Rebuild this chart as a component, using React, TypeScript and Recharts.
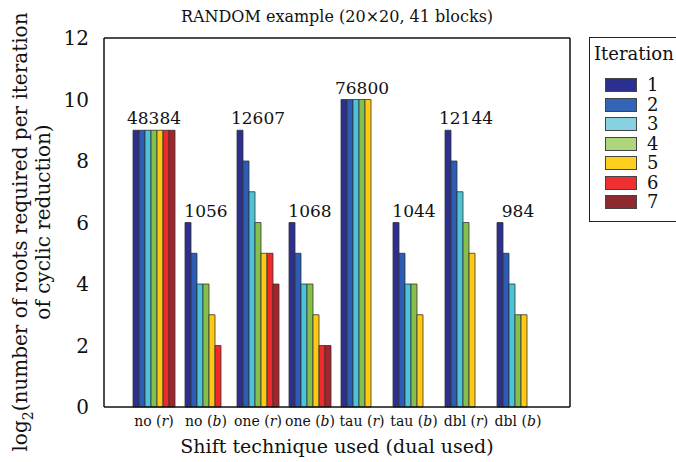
import { BarChart, Bar, XAxis, YAxis, Legend, LabelList } from 'recharts';

const categories = ['no', 'no', 'one', 'one', 'tau', 'tau', 'dbl', 'dbl'];
const duals = ['r', 'b', 'r', 'b', 'r', 'b', 'r', 'b'];
const rootCounts = ['48384', '1056', '12607', '1068', '76800', '1044', '12144', '984'];

// log2 of roots per iteration, one array per iteration (null = no such iteration)
const iter1 = [9, 6, 9, 6, 10, 6, 9, 6];
const iter2 = [9, 5, 8, 5, 10, 5, 8, 5];
const iter3 = [9, 4, 7, 4, 10, 4, 7, 4];
const iter4 = [9, 4, 6, 4, 10, 4, 6, 3];
const iter5 = [9, 3, 5, 3, 10, 3, 5, 3];
const iter6 = [9, 2, 5, 2, null, null, null, null];
const iter7 = [9, null, 4, 2, null, null, null, null];

const yTicks = [0, 2, 4, 6, 8, 10, 12];

const series = [
  { key: 'i1', name: '1', values: iter1, color: '#2b2f8f', swatch: '#2b2f8f' },
  { key: 'i2', name: '2', values: iter2, color: '#2c5cb4', swatch: '#3264b8' },
  { key: 'i3', name: '3', values: iter3, color: '#4cc3d8', swatch: '#86d2e0' },
  { key: 'i4', name: '4', values: iter4, color: '#86c04c', swatch: '#aed67c' },
  { key: 'i5', name: '5', values: iter5, color: '#ffc812', swatch: '#fdcf1c' },
  { key: 'i6', name: '6', values: iter6, color: '#ee2a2a', swatch: '#ee3030' },
  { key: 'i7', name: '7', values: iter7, color: '#a3262c', swatch: '#8e2a2e' },
];

const data = categories.map((c, i) => {
  const row: Record<string, any> = { cat: `${c}|${duals[i]}`, count: rootCounts[i] };
  series.forEach((s) => {
    row[s.key] = s.values[i];
  });
  return row;
});

const FONT = "'DejaVu Serif', 'Liberation Serif', serif";

function CategoryTick({ x, y, payload }: any) {
  const [word, dual] = String(payload.value).split('|');
  return (
    <text x={x} y={y + 11} textAnchor="middle" style={{ fontFamily: FONT }} fontSize={14} fill="#111">
      {word} (<tspan fontStyle="italic">{dual}</tspan>)
    </text>
  );
}

function CountLabel({ x, y, width, index }: any) {
  return (
    <text
      x={x + width * 3.5}
      y={y - 6}
      textAnchor="middle"
      style={{ fontFamily: FONT }}
      fontSize={17}
      fill="#111"
    >
      {rootCounts[index]}
    </text>
  );
}

function IterationLegend() {
  return (
    <div
      style={{
        position: 'absolute',
        left: 589,
        top: 37,
        width: 100,
        height: 185,
        border: '1px solid #222',
        background: '#fff',
        fontFamily: FONT,
        boxSizing: 'border-box',
      }}
    >
      <div style={{ position: 'absolute', left: 4, top: 5, fontSize: 18, color: '#111' }}>Iteration</div>
      {series.map((s, i) => (
        <div key={s.key}>
          <div
            style={{
              position: 'absolute',
              left: 15,
              top: 40 + i * 19.5,
              width: 32,
              height: 14,
              background: s.swatch,
              border: '1px solid #444',
              boxSizing: 'border-box',
            }}
          />
          <div
            style={{
              position: 'absolute',
              left: 57,
              top: 37 + i * 19.5,
              fontSize: 18,
              lineHeight: '19px',
              color: '#111',
            }}
          >
            {s.name}
          </div>
        </div>
      ))}
    </div>
  );
}

export default function App() {
  return (
    <div style={{ position: 'absolute', left: 0, top: 0, width: 676, height: 462, background: '#fff', fontFamily: FONT }}>
      <BarChart
        width={676}
        height={462}
        data={data}
        margin={{ top: 37, right: 105, bottom: 54, left: 103 }}
        barCategoryGap={5}
        barGap={0}
        style={{ fontFamily: FONT }}
      >
        <XAxis
          xAxisId="main"
          dataKey="cat"
          height={1}
          padding={{ left: 24, right: 26 }}
          axisLine={{ stroke: '#111', strokeWidth: 1.5 }}
          tickLine={false}
          tick={<CategoryTick />}
          interval={0}
        />
        <XAxis
          xAxisId="top"
          dataKey="cat"
          orientation="top"
          height={1}
          axisLine={{ stroke: '#111', strokeWidth: 1.5 }}
          tickLine={false}
          tick={false}
        />
        <YAxis
          yAxisId="main"
          width={1}
          domain={[0, 12]}
          ticks={yTicks}
          axisLine={{ stroke: '#111', strokeWidth: 1.5 }}
          tickLine={false}
          tick={{ style: { fontFamily: FONT }, fontSize: 20, fill: '#111' }}
          tickMargin={9}
        />
        <YAxis
          yAxisId="right"
          orientation="right"
          width={1}
          domain={[0, 12]}
          axisLine={{ stroke: '#111', strokeWidth: 1.5 }}
          tickLine={false}
          tick={false}
        />
        <Legend content={() => null} />
        {series.map((s, i) => (
          <Bar
            key={s.key}
            xAxisId="main"
            yAxisId="main"
            dataKey={s.key}
            name={s.name}
            fill={s.color}
            stroke="#333"
            strokeWidth={0.8}
            isAnimationActive={false}
          >
            {i === 0 ? <LabelList dataKey="count" content={<CountLabel />} /> : null}
          </Bar>
        ))}
        <text x={337} y={22} textAnchor="middle" style={{ fontFamily: FONT }} fontSize={16} fill="#111">
          RANDOM example (20×20, 41 blocks)
        </text>
        <text x={337} y={453} textAnchor="middle" style={{ fontFamily: FONT }} fontSize={19} fill="#111">
          Shift technique used (dual used)
        </text>
        <text
          transform="translate(27,232) rotate(-90)"
          textAnchor="middle"
          style={{ fontFamily: FONT }}
          fontSize={20}
          fill="#111"
        >
          log<tspan fontSize={14} dy={6}>2</tspan>
          <tspan dy={-6}>(number of roots required per iteration</tspan>
        </text>
        <text
          transform="translate(50,222) rotate(-90)"
          textAnchor="middle"
          style={{ fontFamily: FONT }}
          fontSize={20}
          fill="#111"
        >
          of cyclic reduction)
        </text>
      </BarChart>
      <IterationLegend />
    </div>
  );
}
